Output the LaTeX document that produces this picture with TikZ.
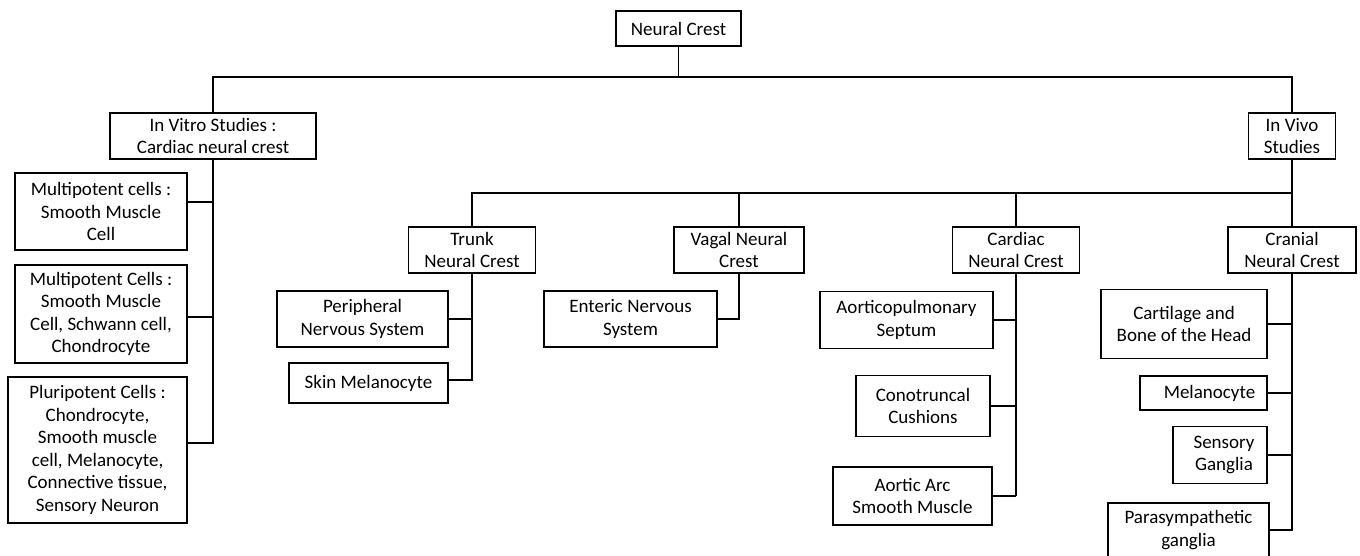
\documentclass[tikz,border=0pt]{standalone}
\usepackage{fontspec}
\setmainfont{Carlito}
\begin{document}
\begin{tikzpicture}[x=1pt,y=-1pt,
  box/.style={draw,line width=1.3pt,align=center,inner sep=0pt,font=\fontsize{19}{22.5}\selectfont},
  link/.style={line width=1.5pt},
  heavylink/.style={line width=2.8pt}]
\useasboundingbox (0,0) rectangle (1360,555);
\clip (0,0) rectangle (1360,555);
\node[box,minimum width=125,minimum height=35] (root) at (678.5,28.5) {Neural Crest};
\node[box,minimum width=206,minimum height=46] (vitro) at (213,136) {In Vitro Studies :\\Cardiac neural crest};
\node[box,minimum width=87,minimum height=46] (vivo) at (1292,136) {In Vivo\\Studies};
\node[box,minimum width=172,minimum height=77] (mcone) at (101,211.5) {Multipotent cells :\\Smooth Muscle\\Cell};
\node[box,minimum width=172,minimum height=98] (mctwo) at (101,314) {Multipotent Cells :\\Smooth Muscle\\Cell, Schwann cell,\\Chondrocyte};
\node[box,minimum width=179,minimum height=146] (pluri) at (97.5,450) {Pluripotent Cells :\\Chondrocyte,\\Smooth muscle\\cell, Melanocyte,\\Connective tissue,\\Sensory Neuron};
\node[box,minimum width=127,minimum height=46] (trunk) at (472,250) {Trunk\\Neural Crest};
\node[box,minimum width=130,minimum height=46] (vagal) at (739,250) {Vagal Neural\\Crest};
\node[box,minimum width=127,minimum height=46] (cardiac) at (1016,250) {Cardiac\\Neural Crest};
\node[box,minimum width=128,minimum height=46] (cranial) at (1292,250) {Cranial\\Neural Crest};
\node[box,minimum width=171,minimum height=56] (periph) at (362.5,319) {Peripheral\\Nervous System};
\node[box,minimum width=159,minimum height=40] (skin) at (368.5,383) {Skin Melanocyte};
\node[box,minimum width=173,minimum height=56] (enteric) at (630.5,319) {Enteric Nervous\\System};
\node[box,minimum width=173,minimum height=57] (aorto) at (906.5,320) {Aorticopulmonary\\Septum};
\node[box,minimum width=134,minimum height=61] (conot) at (923,406) {Conotruncal\\Cushions};
\node[box,minimum width=159,minimum height=58] (aarc) at (912.5,496) {Aortic Arc\\Smooth Muscle};
\node[box,minimum width=166,minimum height=69] (cart) at (1184,324) {Cartilage and\\Bone of the Head};
\node[box,minimum width=127,minimum height=34] (melan) at (1203.5,393) {\hspace*{12pt}Melanocyte};
\node[box,minimum width=94,minimum height=57] (sens) at (1220,455) {\hspace*{8pt}Sensory\\\hspace*{8pt}Ganglia};
\node[box,minimum width=161,minimum height=54] (para) at (1188.5,530) {Parasympathetic\\ganglia};
\coordinate (topbus) at (678.5,77);
\coordinate (midbus) at (1292,193);
\draw[link] (root) -- (topbus);
\draw[link] (vitro.north) |- (topbus) -| (vivo.north);
\draw[link] (vivo.south) -- (midbus) -- (cranial.north);
\draw[link] (trunk.north) |- (midbus);
\draw[link] (vagal.north) -- (vagal.north |- midbus);
\draw[heavylink] (cardiac.north) -- (cardiac.north |- midbus);
\draw[link] (vitro.south) |- ([yshift=9.5pt]mcone.east);
\draw[link] (vitro.south) |- ([yshift=-3pt]mctwo.east);
\draw[link] (vitro.south) |- ([yshift=7pt]pluri.east);
\draw[link] (trunk.south) |- (periph.east);
\draw[link] (trunk.south) |- ([yshift=3pt]skin.east);
\draw[link] (vagal.south) |- (enteric.east);
\draw[heavylink] (cardiac.south) -- (cardiac.south |- aarc.east);
\draw[link] (aorto.east) -- (aorto.east -| cardiac.south);
\draw[link] (conot.east) -- (conot.east -| cardiac.south);
\draw[link] (aarc.east) -- (aarc.east -| cardiac.south);
\draw[link] (cranial.south) |- (cart.east);
\draw[link] (cranial.south) |- (melan.east);
\draw[link] (cranial.south) |- (sens.east);
\draw[link] (cranial.south) |- (para.east);
\end{tikzpicture}
\end{document}
